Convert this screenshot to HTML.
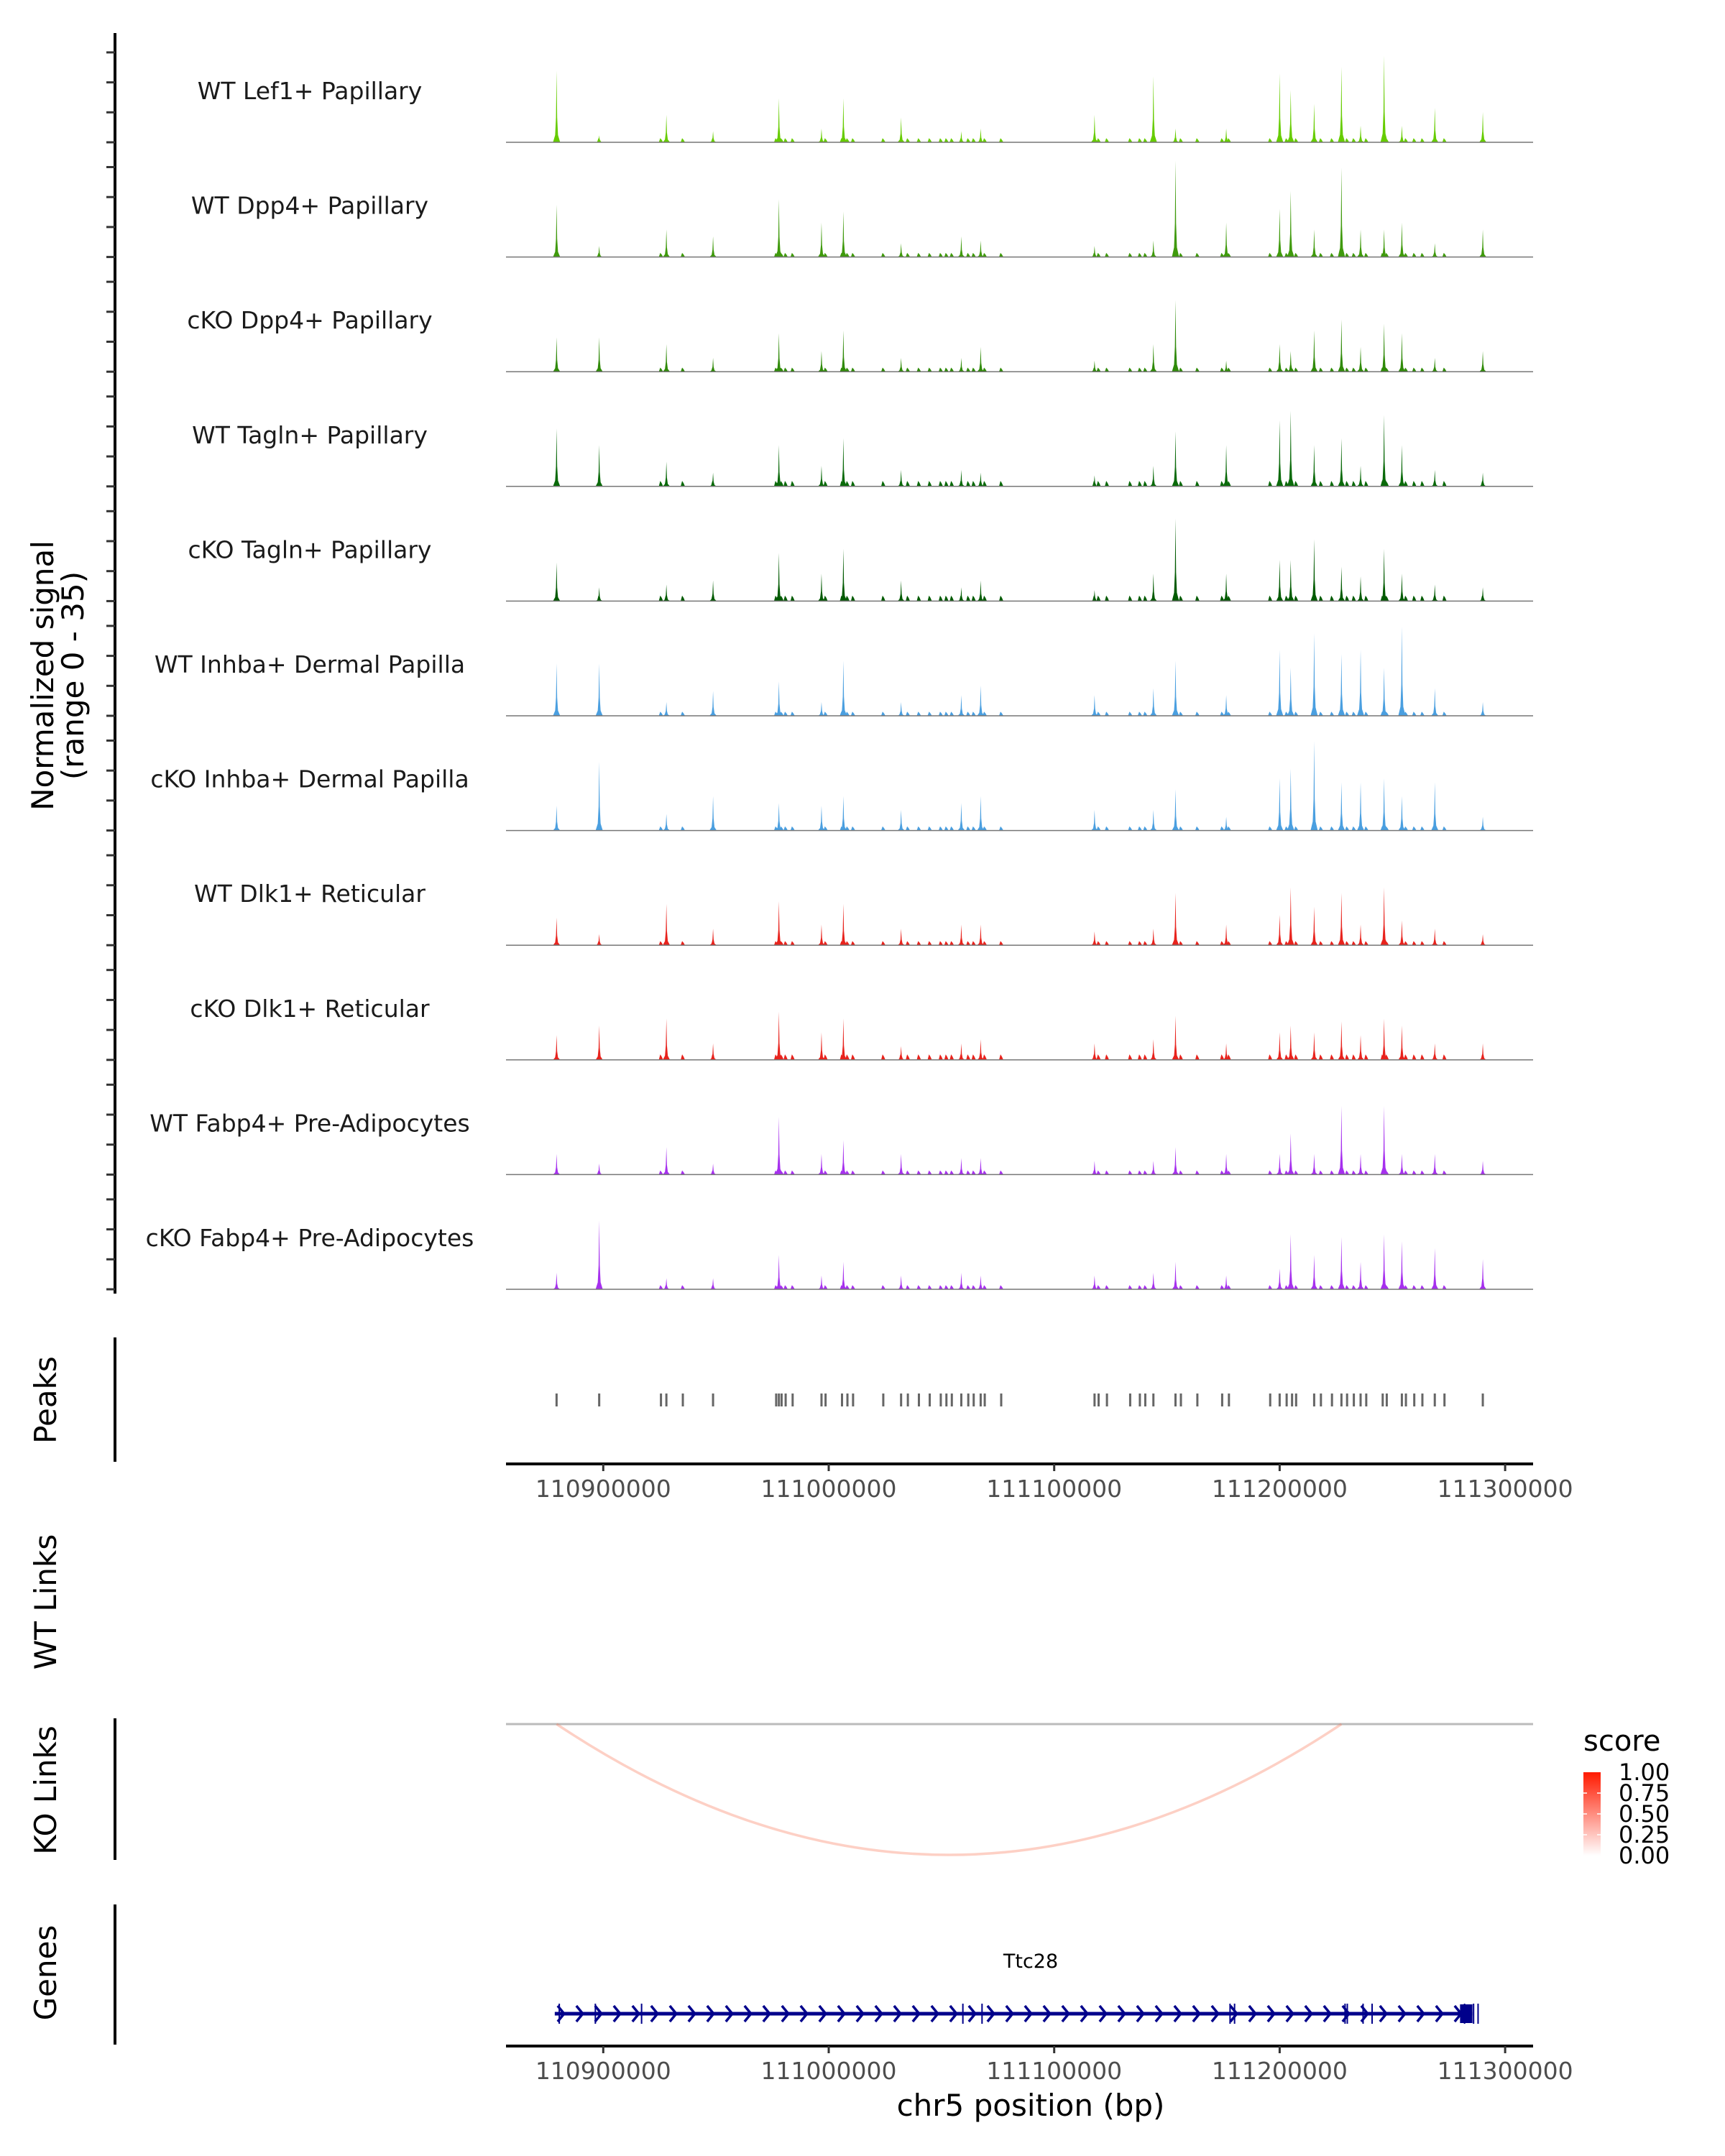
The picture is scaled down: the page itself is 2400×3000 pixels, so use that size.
<!DOCTYPE html>
<html><head><meta charset="utf-8"><style>
html,body{margin:0;padding:0;background:#fff;}
svg{display:block;font-family:"DejaVu Sans","Liberation Sans",sans-serif;}
</style></head><body>
<svg id="chart" width="2400" height="3000" viewBox="0 0 2400 3000" xmlns="http://www.w3.org/2000/svg"></svg>
<script>
// ---- data ----
const trackNames = ["WT Lef1+ Papillary","WT Dpp4+ Papillary","cKO Dpp4+ Papillary","WT Tagln+ Papillary","cKO Tagln+ Papillary","WT Inhba+ Dermal Papilla","cKO Inhba+ Dermal Papilla","WT Dlk1+ Reticular","cKO Dlk1+ Reticular","WT Fabp4+ Pre-Adipocytes","cKO Fabp4+ Pre-Adipocytes"];
const trackColors = ["#66cc00","#3f9a0c","#2f8a08","#0a6a0a","#005a00","#4a9fe0","#4a9fe0","#e8231d","#e8231d","#a630ee","#a630ee"];
const signalKb = [-20.7,-1.8,28.0,48.7,77.9,96.8,106.5,132.1,158.8,167.4,217.9,244.0,253.8,276.3,300.0,304.9,315.3,327.4,335.9,346.3,354.2,368.8,390.1];
const sig0 = [52,5,20,8,32,10,32,18,8,10,20,48,10,10,50,38,28,55,12,63,12,25,22];
const sig1 = [38,8,20,15,42,25,33,10,15,12,8,12,70,25,35,48,20,65,20,20,25,10,20];
const sig2 = [25,25,20,10,28,15,30,10,10,18,8,20,52,8,20,15,30,38,18,35,28,10,15];
const sig3 = [42,30,18,10,30,15,35,12,12,10,8,15,40,30,48,55,30,35,15,52,30,12,10];
const sig4 = [28,10,12,15,35,20,38,15,10,15,8,20,60,20,30,30,45,25,18,38,20,12,10];
const sig5 = [38,38,10,18,25,10,40,10,15,22,15,20,40,15,48,35,60,45,48,35,65,20,10];
const sig6 = [18,50,12,25,20,18,25,15,20,25,15,15,30,10,38,45,65,35,35,38,25,35,10];
const sig7 = [20,8,30,12,32,15,30,12,15,15,10,12,38,15,22,42,28,38,15,42,18,12,8];
const sig8 = [18,25,30,12,35,20,30,10,12,15,12,15,32,12,20,25,20,28,18,30,25,12,12];
const sig9 = [15,8,20,8,42,15,25,15,12,12,10,10,20,15,15,30,15,50,15,50,15,15,10];
const sig10 = [12,50,8,8,25,10,20,10,12,10,10,12,20,10,15,40,25,38,20,40,35,30,22];
const signals = [sig0,sig1,sig2,sig3,sig4,sig5,sig6,sig7,sig8,sig9,sig10];
const minorLevel = [3,3,3,4,4,3,3,3,4,3,3];
const peakKb = [-20.7,-1.8,25.6,28.0,35.3,48.7,76.7,77.9,79.1,80.9,84.0,96.8,98.6,105.9,108.3,110.8,124.2,132.1,135.1,140.0,144.8,149.7,152.2,154.6,158.8,161.9,164.3,167.4,169.2,176.5,217.9,219.7,223.4,233.7,238.0,240.4,244.0,253.8,256.2,263.5,274.5,277.5,295.8,300.0,303.1,305.5,307.3,315.3,318.3,323.2,327.4,329.9,332.9,335.9,338.4,345.7,347.5,354.2,356.0,359.7,363.3,368.8,373.1,390.1];
const xTicks = [110900000,111000000,111100000,111200000,111300000];
const linkStartKb = [-20.7], linkEndKb = [327.4], linkScore = [0.2];
const exonKb = [-19.5,-3.5,17.0,159.5,168.0,278.0,280.0,329.0,330.0,337.0,341.0,382.0,386.0,388.0];
const geneStartKb = -21.5, geneEndKb = 385.5, utrStartKb = 380.0;
const legendTicks = ["1.00","0.75","0.50","0.25","0.00"];

// ---- scales ----
const X0 = 704, X1 = 2133;
const xs = bp => 1153 + (bp - 111000000) * 0.003137;
const xk = kb => xs(110900000 + kb * 1000);
const baseY = i => 198 + i * 159.6;
const hScale = v => v * 125 / 65.3;

const NS = "http://www.w3.org/2000/svg";
const svg = document.getElementById("chart");
function mk(tag, attrs, parent, txt) {
  const e = document.createElementNS(NS, tag);
  for (const k in attrs) e.setAttribute(k, attrs[k]);
  if (txt !== undefined) e.textContent = txt;
  (parent || svg).appendChild(e);
  return e;
}

let g = mk("g", {});


mk("line", {x1:160,y1:46,x2:160,y2:1800,stroke:"#000","stroke-width":4}, g);
for (let i = 0; i < 11; i++) {
  for (let j = 0; j < 4; j++) {
    const y = baseY(i) - j * 41.7;
    mk("line", {x1:148,y1:y,x2:160,y2:y,stroke:"#333","stroke-width":3}, g);
  }
}
let t = mk("text", {x:0,y:0,"font-size":42,"text-anchor":"middle",fill:"#000",transform:"translate(80,940) rotate(-90)"}, svg);


mk("tspan", {x:0,dy:-6}, t, "Normalized signal");
mk("tspan", {x:0,dy:42}, t, "(range 0 - 35)");

for (let i = 0; i < 11; i++) {
  const tg = mk("g", {});
  
  
  const by = baseY(i);
  const lab = mk("text", {x:431,y:by-60,"font-size":33,"text-anchor":"middle",fill:"#1a1a1a"}, tg, trackNames[i]);
  
  
  peakKb.forEach(k => {
    const x = xk(k), h = hScale(minorLevel[i]);
    const p = mk("path", {d:`M${x-3},${by} L${x-1},${by-h} L${x+1},${by-h*0.6} L${x+3},${by} Z`, fill:trackColors[i]}, tg);
    
    
  });
  signals[i].forEach((v, j) => {
    const x = xk(signalKb[j]), h = hScale(v);
    const d = `M${x-5},${by} L${x-2},${by-h*0.1} L${x-0.8},${by-h*0.35} L${x},${by-h} L${x+0.8},${by-h*0.35} L${x+2},${by-h*0.1} L${x+5},${by} Z`;
    const p = mk("path", {d, fill:trackColors[i]}, tg);
    
    
  });
  mk("line", {x1:X0,y1:by,x2:X1,y2:by,stroke:"#777","stroke-width":1.5}, tg);
}

g = mk("g", {});


mk("line", {x1:160,y1:1861,x2:160,y2:2034,stroke:"#000","stroke-width":4}, g);
mk("text", {x:0,y:0,"font-size":42,"text-anchor":"middle",transform:"translate(78,1948) rotate(-90)"}, g, "Peaks");
peakKb.forEach(k => {
  const r = mk("rect", {x:xk(k)-1.5,y:1939,width:3,height:18,fill:"#666"}, g);
  
  
});

function xAxis(y, name) {
  const ag = mk("g", {});
  
  
  mk("line", {x1:X0,y1:y,x2:X1,y2:y,stroke:"#000","stroke-width":4}, ag);
  xTicks.forEach(v => {
    const x = xs(v);
    mk("line", {x1:x,y1:y,x2:x,y2:y+10,stroke:"#333","stroke-width":3}, ag);
    mk("text", {x:x,y:y+46,"font-size":33,"text-anchor":"middle",fill:"#4d4d4d"}, ag, String(v));
  });
}
xAxis(2037, 'x-axis-top');

t = mk("text", {x:0,y:0,"font-size":42,"text-anchor":"middle",transform:"translate(78,2229) rotate(-90)"}, svg, "WT Links");



g = mk("g", {});


mk("line", {x1:160,y1:2391,x2:160,y2:2588,stroke:"#000","stroke-width":4}, g);
mk("text", {x:0,y:0,"font-size":42,"text-anchor":"middle",transform:"translate(78,2491) rotate(-90)"}, g, "KO Links");
mk("line", {x1:X0,y1:2399,x2:X1,y2:2399,stroke:"#bbb","stroke-width":3}, g);
linkStartKb.forEach((s, i) => {
  const a = xk(s), b = xk(linkEndKb[i]), m = (a + b) / 2;
  const depth = 2581 - 2399;
  const p = mk("path", {d:`M${a},2399 Q${m},${2399 + depth*2} ${b},2399`, fill:"none", stroke:`rgba(250,120,90,${0.25 + linkScore[i]*0.5})`, "stroke-width":3.5}, g);
  
  
});

g = mk("g", {});


mk("text", {x:2203,y:2436,"font-size":40,fill:"#000"}, g, "score");
const defs = mk("defs", {});
const lg = mk("linearGradient", {id:"sg",x1:0,y1:1,x2:0,y2:0}, defs);
mk("stop", {offset:"0","stop-color":"#ffffff"}, lg);
mk("stop", {offset:"1","stop-color":"#ff1a00"}, lg);
mk("rect", {x:2203,y:2466,width:24,height:116,fill:"url(#sg)"}, g);
legendTicks.forEach((l, i) => {
  const y = 2466 + i * 29;
  if (i > 0 && i < 4) {
    mk("line", {x1:2203,y1:y,x2:2208,y2:y,stroke:"#fff","stroke-width":1.5}, g);
    mk("line", {x1:2222,y1:y,x2:2227,y2:y,stroke:"#fff","stroke-width":1.5}, g);
  }
  mk("text", {x:2252,y:y+11,"font-size":32,fill:"#000"}, g, l);
});

g = mk("g", {});


mk("line", {x1:160,y1:2650,x2:160,y2:2845,stroke:"#000","stroke-width":4}, g);
mk("text", {x:0,y:0,"font-size":42,"text-anchor":"middle",transform:"translate(78,2745) rotate(-90)"}, g, "Genes");
mk("text", {x:1434,y:2738,"font-size":27,"text-anchor":"middle",fill:"#000"}, g, "Ttc28");
const gy = 2802, ga = xk(geneStartKb), gb = xk(geneEndKb);
mk("line", {x1:ga,y1:gy,x2:gb,y2:gy,stroke:"#00008b","stroke-width":5}, g);
for (let x = ga + 4; x < gb - 8; x += 26) {
  mk("path", {d:`M${x},${gy-11} L${x+9},${gy} L${x},${gy+11}`, fill:"none", stroke:"#00008b","stroke-width":3.5}, g);
}
exonKb.forEach(k => {
  const x = xk(k);
  const e = mk("line", {x1:x,y1:gy-14,x2:x,y2:gy+14,stroke:"#00008b","stroke-width":2}, g);
  
  
});
mk("rect", {x:xk(utrStartKb),y:gy-13,width:gb-xk(utrStartKb),height:26,fill:"#00008b"}, g);

xAxis(2847, 'x-axis-bottom');
t = mk("text", {x:1434,y:2944,"font-size":42,"text-anchor":"middle",fill:"#000"}, svg, "chr5 position (bp)");


</script>
</body></html>
